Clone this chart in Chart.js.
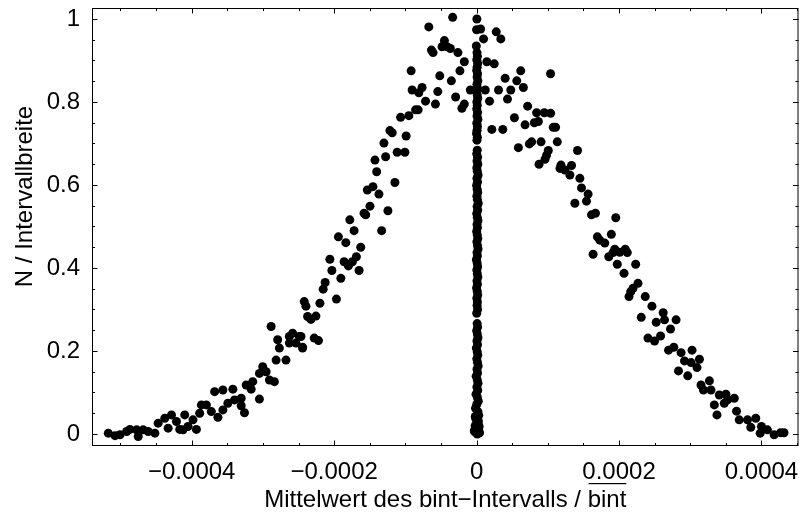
<!DOCTYPE html>
<html>
<head>
<meta charset="utf-8">
<script src="https://cdn.jsdelivr.net/npm/chart.js@4.4.1/dist/chart.umd.min.js"></script>
<style>
  html, body { margin: 0; padding: 0; background: #fff; }
  #wrap { width: 803px; height: 516px; position: relative; }
</style>
</head>
<body>
<div id="wrap"><canvas id="verteilung"></canvas></div>
<script>
// Punkte links vom Maximum: [x, N/Intervallbreite]
const linkerAst = [
  [-517.1e-6, 0.002], [-507.7e-6, -0.004], [-500.7e-6, -0.002], [-491.3e-6, 0.006], [-486.7e-6, 0.011],
  [-477.3e-6, 0.010], [-475.1e-6, -0.006], [-468.1e-6, 0.010], [-461.1e-6, 0.006], [-451.7e-6, 0.002],
  [-447.1e-6, 0.026], [-437.8e-6, 0.038], [-428.4e-6, 0.046], [-433.1e-6, 0.014], [-421.4e-6, 0.030],
  [-416.8e-6, 0.011], [-409.8e-6, 0.046], [-405.2e-6, 0.018], [-412.2e-6, 0.010], [-393.4e-6, 0.011],
  [-398.2e-6, 0.034], [-388.8e-6, 0.050], [-386.4e-6, 0.070], [-379.4e-6, 0.070], [-367.8e-6, 0.102],
  [-372.4e-6, 0.054], [-363.2e-6, 0.040], [-356.2e-6, 0.058], [-356.2e-6, 0.106], [-342.2e-6, 0.108],
  [-349.2e-6, 0.074], [-339.9e-6, 0.082], [-330.5e-6, 0.086], [-325.9e-6, 0.051], [-330.5e-6, 0.068],
  [-323.5e-6, 0.118], [-314.3e-6, 0.126], [-316.5e-6, 0.108], [-304.9e-6, 0.146], [-300.3e-6, 0.162],
  [-295.5e-6, 0.150], [-304.9e-6, 0.084], [-290.9e-6, 0.130], [-283.9e-6, 0.126], [-288.5e-6, 0.259],
  [-279.3e-6, 0.227], [-276.9e-6, 0.207], [-281.5e-6, 0.178], [-267.6e-6, 0.178], [-262.9e-6, 0.219],
  [-258.3e-6, 0.243], [-262.9e-6, 0.235], [-253.6e-6, 0.219], [-249.0e-6, 0.235], [-244.3e-6, 0.207],
  [-242.0e-6, 0.319], [-237.3e-6, 0.283], [-239.6e-6, 0.308], [-220.0e-6, 0.315], [-225.6e-6, 0.284],
  [-232.6e-6, 0.276], [-246.6e-6, 0.235], [-244.3e-6, 0.209], [-228.0e-6, 0.231], [-222.0e-6, 0.225],
  [-215.4e-6, 0.349], [-212.6e-6, 0.365], [-196.8e-6, 0.325], [-190.6e-6, 0.375], [-165.0e-6, 0.394],
  [-186.0e-6, 0.415], [-180.0e-6, 0.405], [-174.4e-6, 0.415], [-206.0e-6, 0.421], [-203.2e-6, 0.394],
  [-162.7e-6, 0.450], [-168.8e-6, 0.427], [-194.0e-6, 0.475], [-183.6e-6, 0.461], [-172.0e-6, 0.490],
  [-133.3e-6, 0.490], [-178.0e-6, 0.516], [-158.0e-6, 0.532], [-155.7e-6, 0.528], [-124.5e-6, 0.538],
  [-149.7e-6, 0.549], [-145.5e-6, 0.596], [-153.4e-6, 0.588], [-137.1e-6, 0.578], [-114.7e-6, 0.606],
  [-140.3e-6, 0.632], [-142.7e-6, 0.660], [-127.7e-6, 0.668], [-111.5e-6, 0.679], [-100.7e-6, 0.679],
  [-130.1e-6, 0.701], [-98.9e-6, 0.718], [-118.5e-6, 0.726], [-121.7e-6, 0.731], [-106.7e-6, 0.763],
  [-95.1e-6, 0.767], [-85.7e-6, 0.781], [-82.1e-6, 0.781], [-71.7e-6, 0.802], [-57.8e-6, 0.795],
  [-90.5e-6, 0.829], [-76.5e-6, 0.835], [-81.1e-6, 0.822], [-54.5e-6, 0.825], [-29.4e-6, 0.812],
  [-17.2e-6, 0.795], [-20.6e-6, 0.785], [-8.8e-6, 0.829], [-91.9e-6, 0.875], [-51.7e-6, 0.863],
  [-35.4e-6, 0.851], [-23.4e-6, 0.875], [-17.2e-6, 0.897], [-26.2e-6, 0.919], [-63.4e-6, 0.925],
  [-61.1e-6, 0.919], [-45.2e-6, 0.948], [-48.5e-6, 0.933], [-41.5e-6, 0.933], [-36.8e-6, 0.929],
  [-67.1e-6, 0.981], [-33.6e-6, 1.004]
];

// Punkte rechts vom Maximum
const rechterAst = [
  [27.6e-6, 0.969], [34.0e-6, 0.952], [9.8e-6, 0.952], [14.4e-6, 0.897], [24.8e-6, 0.892],
  [62.0e-6, 0.875], [40.1e-6, 0.857], [56.4e-6, 0.851], [65.7e-6, 0.835], [48.0e-6, 0.829],
  [43.4e-6, 0.807], [30.8e-6, 0.829], [12.2e-6, 0.829], [18.2e-6, 0.802], [71.7e-6, 0.790],
  [84.3e-6, 0.774], [95.1e-6, 0.774], [53.1e-6, 0.762], [68.1e-6, 0.745], [81.1e-6, 0.750],
  [21.4e-6, 0.734], [36.8e-6, 0.734], [77.3e-6, 0.704], [90.5e-6, 0.704], [74.1e-6, 0.699],
  [58.7e-6, 0.690], [98.3e-6, 0.672], [96.1e-6, 0.662], [87.7e-6, 0.650], [103.9e-6, 0.868],
  [103.9e-6, 0.773], [86.7e-6, 0.753], [107.7e-6, 0.739], [110.9e-6, 0.739], [113.3e-6, 0.704],
  [100.7e-6, 0.683], [141.7e-6, 0.683], [118.5e-6, 0.648], [117.1e-6, 0.640], [124.1e-6, 0.636],
  [133.3e-6, 0.647], [131.0e-6, 0.624], [145.0e-6, 0.616], [147.3e-6, 0.593], [156.6e-6, 0.578],
  [154.3e-6, 0.561], [138.0e-6, 0.556], [161.3e-6, 0.528], [166.9e-6, 0.532], [195.4e-6, 0.521],
  [189.2e-6, 0.481], [169.6e-6, 0.475], [173.0e-6, 0.467], [180.0e-6, 0.460], [194.0e-6, 0.445],
  [208.8e-6, 0.445], [163.6e-6, 0.433], [185.6e-6, 0.427], [191.6e-6, 0.437], [201.0e-6, 0.438],
  [211.6e-6, 0.437], [197.6e-6, 0.409], [223.4e-6, 0.409], [207.0e-6, 0.387], [226.6e-6, 0.363],
  [219.6e-6, 0.351], [216.4e-6, 0.343], [214.0e-6, 0.331], [236.8e-6, 0.331], [246.2e-6, 0.308],
  [262.0e-6, 0.292], [263.9e-6, 0.275], [252.2e-6, 0.269], [280.1e-6, 0.275], [272.3e-6, 0.253],
  [231.2e-6, 0.281], [240.6e-6, 0.231], [249.9e-6, 0.224], [258.3e-6, 0.236], [269.5e-6, 0.202],
  [276.9e-6, 0.209], [287.1e-6, 0.196], [302.5e-6, 0.202], [291.9e-6, 0.176], [301.1e-6, 0.172],
  [312.9e-6, 0.180], [283.5e-6, 0.152], [296.5e-6, 0.140], [309.5e-6, 0.160], [315.1e-6, 0.118],
  [326.9e-6, 0.128], [318.5e-6, 0.106], [329.1e-6, 0.106], [340.8e-6, 0.094], [350.1e-6, 0.096],
  [352.4e-6, 0.082], [361.8e-6, 0.086], [347.8e-6, 0.074], [333.8e-6, 0.070], [337.5e-6, 0.046],
  [365.0e-6, 0.055], [368.8e-6, 0.034], [380.4e-6, 0.034], [392.0e-6, 0.038], [385.0e-6, 0.016],
  [400.0e-6, 0.018], [398.2e-6, 0.002], [408.4e-6, 0.010], [417.8e-6, -0.002], [427.0e-6, 0.003],
  [431.7e-6, 0.003]
];

// schmale Säule bei x = 0
const mittelSaeule = [
  [0.4e-6, 1.000], [0.0e-6, 0.974], [5.6e-6, 0.976], [-0.4e-6, 0.935],
  [0.6e-6, 0.919], [1.2e-6, 0.910], [0.3e-6, 0.902], [1.5e-6, 0.893], [0.8e-6, 0.884], [0.1e-6, 0.876],
  [1.3e-6, 0.868], [0.7e-6, 0.860], [1.8e-6, 0.851], [0.5e-6, 0.843], [1.1e-6, 0.834], [-0.2e-6, 0.826],
  [0.9e-6, 0.817], [1.6e-6, 0.809], [0.4e-6, 0.800], [1.0e-6, 0.792], [0.2e-6, 0.783], [1.4e-6, 0.775],
  [0.6e-6, 0.766], [1.9e-6, 0.758], [0.3e-6, 0.749], [1.2e-6, 0.741], [0.7e-6, 0.732], [-0.1e-6, 0.724],
  [1.1e-6, 0.715], [0.5e-6, 0.708],
  [0.9e-6, 0.684], [0.2e-6, 0.675], [1.4e-6, 0.667], [0.6e-6, 0.658], [1.7e-6, 0.650], [0.3e-6, 0.641],
  [1.0e-6, 0.633], [2.1e-6, 0.624], [0.5e-6, 0.616], [1.3e-6, 0.607], [0.0e-6, 0.599], [0.8e-6, 0.590],
  [1.6e-6, 0.582], [0.4e-6, 0.573], [1.1e-6, 0.565], [2.3e-6, 0.556], [0.7e-6, 0.548], [1.5e-6, 0.539],
  [0.2e-6, 0.531], [1.0e-6, 0.522], [1.9e-6, 0.514], [0.6e-6, 0.505], [1.2e-6, 0.497], [0.1e-6, 0.488],
  [0.9e-6, 0.480], [1.7e-6, 0.471], [0.4e-6, 0.463], [1.3e-6, 0.454], [2.0e-6, 0.446], [0.6e-6, 0.437],
  [1.1e-6, 0.429], [-0.3e-6, 0.420], [0.8e-6, 0.412], [1.5e-6, 0.403], [0.3e-6, 0.395], [1.0e-6, 0.386],
  [1.8e-6, 0.378], [0.5e-6, 0.369], [1.2e-6, 0.361], [0.0e-6, 0.352], [0.9e-6, 0.344], [1.6e-6, 0.335],
  [0.4e-6, 0.327], [1.1e-6, 0.318], [0.7e-6, 0.310], [1.4e-6, 0.300], [0.2e-6, 0.291],
  [0.8e-6, 0.266], [1.5e-6, 0.258], [0.1e-6, 0.249], [1.0e-6, 0.241], [1.9e-6, 0.232], [0.5e-6, 0.224],
  [1.3e-6, 0.215], [-0.4e-6, 0.207], [0.9e-6, 0.198], [1.7e-6, 0.190], [0.3e-6, 0.181], [1.2e-6, 0.173],
  [2.2e-6, 0.164], [0.6e-6, 0.156], [1.4e-6, 0.147], [-0.6e-6, 0.139], [1.0e-6, 0.130], [2.0e-6, 0.122],
  [0.4e-6, 0.113], [1.6e-6, 0.105], [-0.8e-6, 0.096], [1.1e-6, 0.088], [2.4e-6, 0.079], [0.2e-6, 0.071],
  [-1.5e-6, 0.062], [1.8e-6, 0.054], [3.0e-6, 0.045], [-1.2e-6, 0.037], [0.6e-6, 0.028], [-2.0e-6, 0.020],
  [2.9e-6, 0.012], [-2.6e-6, 0.005], [1.0e-6, 0.000], [4.2e-6, 0.003], [-3.2e-6, 0.008], [3.6e-6, 0.018],
  [-0.5e-6, 0.010], [2.6e-6, 0.030], [-1.8e-6, 0.042], [0.3e-6, 0.002]
];

const xTickWerte = [-0.0004, -0.0002, 0, 0.0002, 0.0004];
const xTickTexte = ['\u22120.0004', '\u22120.0002', '0', '0.0002', '0.0004'];
const yTickWerte = [0, 0.2, 0.4, 0.6, 0.8, 1];
const yTickTexte = ['0', '0.2', '0.4', '0.6', '0.8', '1'];

const xTitel = 'Mittelwert des bint\u2212Intervalls / ';
const xTitelUeberstrichen = 'bint';
const yTitel = 'N / Intervallbreite';

const SCHRIFT = '"Liberation Sans", Arial, Helvetica, sans-serif';
const GROESSE = 24;

function punkte(liste) {
  return liste.map(p => ({ x: p[0], y: p[1] }));
}

// Rahmen mit nach innen zeigenden Teilstrichen auf allen vier Seiten
const rahmenPlugin = {
  id: 'rahmen',
  beforeDatasetsDraw(chart) {
    const { ctx, chartArea: a, scales } = chart;
    const xs = scales.x, ys = scales.y;
    ctx.save();
    ctx.strokeStyle = '#000';
    ctx.lineWidth = 1;
    ctx.strokeRect(a.left + 0.5, a.top + 0.5, a.right - a.left - 1, a.bottom - a.top - 1);

    const lang = 5.5, kurz = 3;
    ctx.beginPath();
    for (let i = -10; i <= 9; i++) {
      const v = i * 0.00005;
      const px = Math.round(xs.getPixelForValue(v)) + 0.5;
      const l = (i % 4 === 0) ? lang : kurz;
      ctx.moveTo(px, a.bottom);
      ctx.lineTo(px, a.bottom - l);
      ctx.moveTo(px, a.top);
      ctx.lineTo(px, a.top + l);
    }
    for (let i = 0; i <= 20; i++) {
      const v = i * 0.05;
      const py = Math.round(ys.getPixelForValue(v)) + 0.5;
      const l = (i % 4 === 0) ? lang : kurz;
      ctx.moveTo(a.left, py);
      ctx.lineTo(a.left + l, py);
      ctx.moveTo(a.right, py);
      ctx.lineTo(a.right - l, py);
    }
    ctx.stroke();
    ctx.restore();
  },
  afterDraw(chart) {
    const { ctx, chartArea: a } = chart;
    ctx.save();
    ctx.fillStyle = '#000';
    ctx.font = GROESSE + 'px ' + SCHRIFT;

    // x-Achsentitel, letztes Wort mit Überstrich
    const wVorne = ctx.measureText(xTitel).width;
    const wHinten = ctx.measureText(xTitelUeberstrichen).width;
    const mitte = (a.left + a.right) / 2;
    const start = mitte - (wVorne + wHinten) / 2;
    const basis = 507;
    ctx.textAlign = 'left';
    ctx.textBaseline = 'alphabetic';
    ctx.fillText(xTitel, start, basis);
    ctx.fillText(xTitelUeberstrichen, start + wVorne, basis);
    ctx.fillRect(start + wVorne + 1, basis - 24, wHinten - 1, 1.2);

    // y-Achsentitel
    ctx.translate(31.5, 196.5);
    ctx.rotate(-Math.PI / 2);
    ctx.textAlign = 'center';
    ctx.fillText(yTitel, 0, 0);
    ctx.restore();
  }
};

const punktStil = {
  pointRadius: 4.5,
  pointHoverRadius: 4.5,
  pointBackgroundColor: '#000',
  pointBorderWidth: 0,
  showLine: false
};

// Achsen auf feste Maße bringen, ohne Überhang der Beschriftung
function festeBreite(s) {
  s.width = 92;
  s.paddingTop = 0; s.paddingBottom = 0;
}
function festeHoehe(s) {
  s.height = 70;
  s.paddingLeft = 0; s.paddingRight = 0;
}

new Chart(document.getElementById('verteilung'), {
  type: 'scatter',
  data: {
    datasets: [
      { data: punkte(linkerAst), ...punktStil },
      { data: punkte(mittelSaeule), ...punktStil },
      { data: punkte(rechterAst), ...punktStil }
    ]
  },
  options: {
    responsive: true,
    maintainAspectRatio: false,
    animation: false,
    layout: { padding: { top: 8, right: 2, left: 0, bottom: 0 } },
    plugins: { legend: { display: false }, tooltip: { enabled: false } },
    scales: {
      x: {
        type: 'linear',
        min: -0.00054,
        max: 0.000452,
        grid: { display: false, drawTicks: false },
        border: { display: false },
        afterBuildTicks: s => { s.ticks = xTickWerte.map(v => ({ value: v })); },
        afterFit: festeHoehe,
        ticks: {
          color: '#000',
          padding: 12,
          maxRotation: 0,
          font: { family: SCHRIFT, size: GROESSE },
          callback: (v, i) => xTickTexte[i]
        }
      },
      y: {
        type: 'linear',
        min: -0.029,
        max: 1.0265,
        grid: { display: false, drawTicks: false },
        border: { display: false },
        afterBuildTicks: s => { s.ticks = yTickWerte.map(v => ({ value: v })); },
        afterFit: festeBreite,
        ticks: {
          color: '#000',
          padding: 12,
          font: { family: SCHRIFT, size: GROESSE },
          callback: (v, i) => yTickTexte[i]
        }
      }
    }
  },
  plugins: [rahmenPlugin]
});
</script>
</body>
</html>
